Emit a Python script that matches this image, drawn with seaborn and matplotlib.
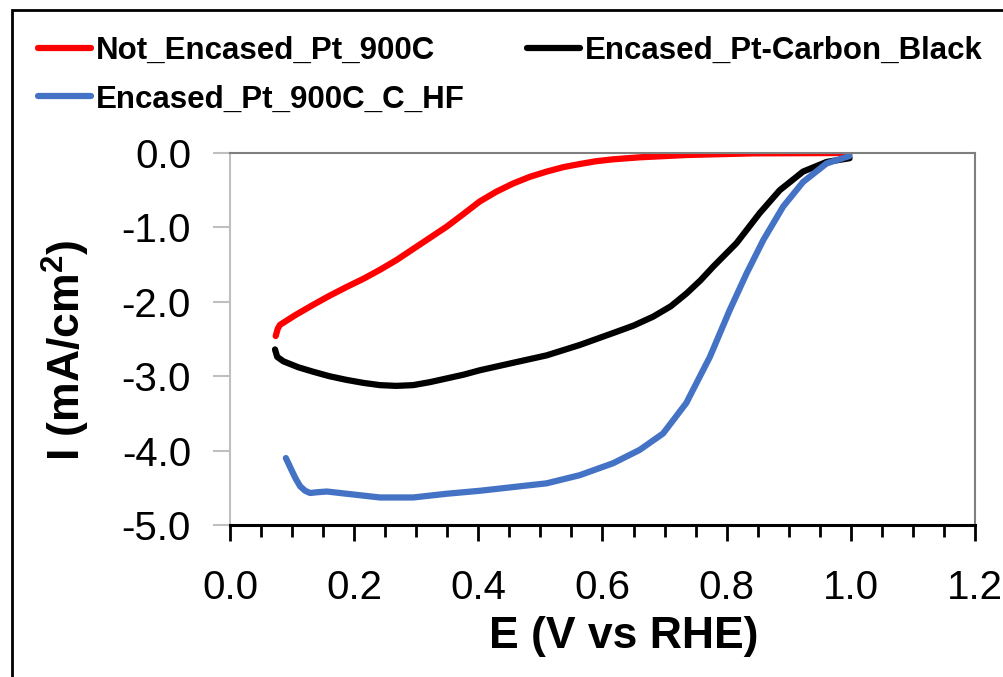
import numpy as np
import pandas as pd
import matplotlib
matplotlib.use("Agg")
import matplotlib.pyplot as plt
import seaborn as sns
from matplotlib.patches import Rectangle
from matplotlib.ticker import MultipleLocator

# Valores (E em V vs RHE, I em mA/cm2)
labels = ["Not_Encased_Pt_900C", "Encased_Pt-Carbon_Black", "Encased_Pt_900C_C_HF"]
colors = ["#FF0000", "#000000", "#4472C4"]

e_red = [0.0736, 0.0770, 0.0805, 0.105, 0.134, 0.160, 0.188, 0.215, 0.2415, 0.268, 0.295,
         0.322, 0.349, 0.376, 0.4025, 0.429, 0.456, 0.483, 0.510, 0.537, 0.5635, 0.590,
         0.617, 0.660, 0.735, 0.843, 0.998]
i_red = [-2.46, -2.36, -2.31, -2.18, -2.04, -1.92, -1.80, -1.69, -1.57, -1.44, -1.29,
         -1.14, -0.99, -0.82, -0.65, -0.52, -0.41, -0.32, -0.25, -0.19, -0.148, -0.11,
         -0.085, -0.058, -0.027, -0.005, 0.0]

e_black = [0.0725, 0.076, 0.086, 0.110, 0.134, 0.160, 0.188, 0.215, 0.2415, 0.268, 0.295,
           0.322, 0.349, 0.376, 0.4025, 0.456, 0.510, 0.5635, 0.617, 0.650, 0.6815, 0.710,
           0.735, 0.758, 0.778, 0.816, 0.853, 0.8855, 0.923, 0.961, 0.998]
i_black = [-2.64, -2.74, -2.80, -2.88, -2.94, -3.00, -3.05, -3.09, -3.12, -3.13, -3.12,
           -3.08, -3.03, -2.98, -2.92, -2.82, -2.72, -2.58, -2.42, -2.32, -2.20, -2.06,
           -1.89, -1.71, -1.53, -1.21, -0.81, -0.50, -0.25, -0.12, -0.07]

e_blue = [0.090, 0.094, 0.099, 0.106, 0.113, 0.121, 0.129, 0.140, 0.156, 0.188, 0.2415,
          0.295, 0.349, 0.4025, 0.456, 0.510, 0.5635, 0.617, 0.660, 0.6976, 0.735, 0.773,
          0.805, 0.832, 0.859, 0.891, 0.923, 0.961, 0.998]
i_blue = [-4.10, -4.17, -4.26, -4.38, -4.48, -4.54, -4.57, -4.56, -4.55, -4.58, -4.63,
          -4.63, -4.58, -4.54, -4.49, -4.44, -4.33, -4.17, -3.99, -3.77, -3.36, -2.74,
          -2.11, -1.62, -1.17, -0.72, -0.39, -0.14, -0.04]

x_ticks = [0.0, 0.2, 0.4, 0.6, 0.8, 1.0, 1.2]
y_ticks = [0.0, -1.0, -2.0, -3.0, -4.0, -5.0]

df = pd.concat([
    pd.DataFrame({"E": e_red, "I": i_red, "amostra": labels[0]}),
    pd.DataFrame({"E": e_black, "I": i_black, "amostra": labels[1]}),
    pd.DataFrame({"E": e_blue, "I": i_blue, "amostra": labels[2]}),
])

sns.set_theme(style="white")
plt.rcParams["font.family"] = ["Liberation Sans", "DejaVu Sans"]
plt.rcParams["text.color"] = "black"
plt.rcParams["axes.labelcolor"] = "black"
plt.rcParams["xtick.color"] = "black"
plt.rcParams["ytick.color"] = "black"

fig = plt.figure(figsize=(10.04, 6.77), dpi=100)
ax = fig.add_axes([230 / 1004, 1 - 525 / 677, 745 / 1004, 372 / 677])

for lab, col in zip(labels, colors):
    sub = df[df["amostra"] == lab]
    sns.lineplot(data=sub, x="E", y="I", sort=False, ax=ax, color=col, lw=4.5,
                 label=lab, legend=False, solid_capstyle="round", solid_joinstyle="round")

ax.set_xlim(0, 1.2)
ax.set_ylim(-5, 0)
ax.set_xticks(x_ticks)
ax.set_xticklabels([f"{v:.1f}" for v in x_ticks])
ax.xaxis.set_minor_locator(MultipleLocator(0.05))
ax.set_yticks(y_ticks)
ax.set_yticklabels([f"{v:.1f}" for v in y_ticks])

ax.tick_params(axis="x", which="major", direction="out", length=11.5, width=2,
               color="black", labelcolor="black", bottom=True, labelsize=29, pad=20)
ax.tick_params(axis="x", which="minor", direction="out", length=8.5, width=2,
               color="black", bottom=True)
ax.tick_params(axis="y", which="major", direction="out", length=12, width=1.5,
               color="#BFBFBF", labelcolor="black", left=True, labelsize=29, pad=16)

for s in ["top", "right"]:
    ax.spines[s].set_color("#7F7F7F")
    ax.spines[s].set_linewidth(1.5)
ax.spines["left"].set_color("#BFBFBF")
ax.spines["left"].set_linewidth(1.5)
ax.spines["bottom"].set_color("black")
ax.spines["bottom"].set_linewidth(2.2)

ax.set_xlabel("E (V vs RHE)", fontsize=32, fontweight="bold", color="black")
ax.set_ylabel("I (mA/cm$^\\mathregular{2}$)", fontsize=32, fontweight="bold", color="black")
ax.xaxis.set_label_coords(0.528, -0.245)
ax.yaxis.set_label_coords(-0.185, 0.47)
ax.grid(False)

# Legenda em duas colunas (ordem coluna a coluna)
h = ax.get_lines()
leg = fig.legend([h[0], h[2], h[1]], [labels[0], labels[2], labels[1]], ncol=2,
                 loc="upper left", bbox_to_anchor=(22 / 1004, 1 - 20 / 677), frameon=False,
                 prop={"size": 22.5, "weight": "bold"}, handlelength=1.7, handletextpad=0.16,
                 columnspacing=2.0, labelspacing=0.6, borderpad=0)
for t in leg.get_texts():
    t.set_color("black")

# Moldura da figura
fig.patches.append(Rectangle((12 / 1004, -0.01), 1.0, 1 - 10 / 677 + 0.01,
                             transform=fig.transFigure, fill=False, edgecolor="black", lw=2))

fig.savefig("out.png", dpi=100)
